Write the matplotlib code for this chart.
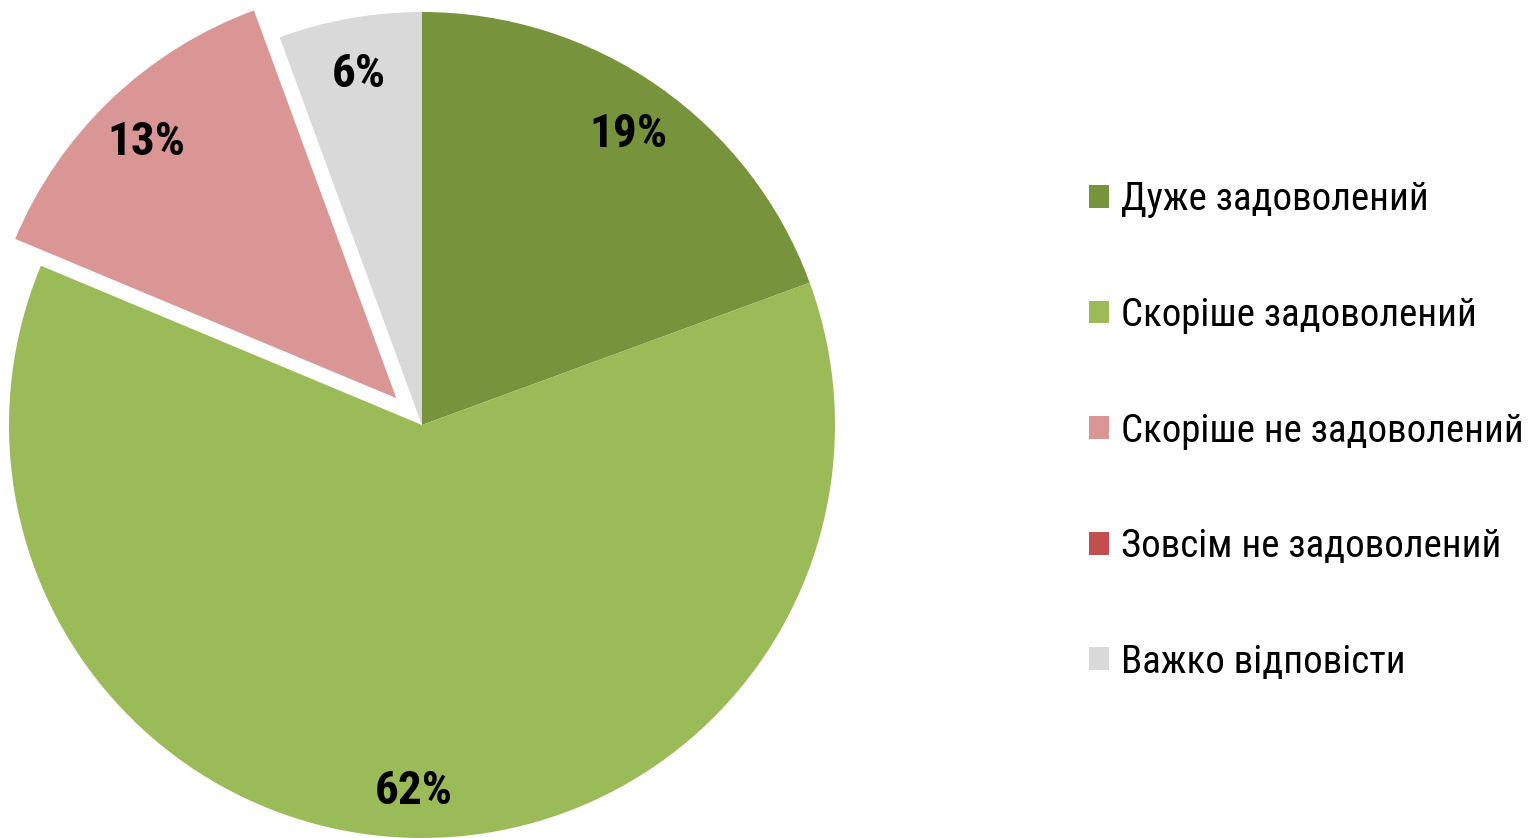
import matplotlib
matplotlib.use("Agg")
import matplotlib.pyplot as plt
import matplotlib.transforms as mtransforms
from matplotlib import font_manager as fm

categories = ["Дуже задоволений", "Скоріше задоволений", "Скоріше не задоволений",
              "Зовсім не задоволений", "Важко відповісти"]
values = [19.4, 61.9, 13.1, 0.0, 5.6]
colors = ["#77933C", "#9BBB59", "#D99694", "#C0504D", "#D9D9D9"]
explode = [0, 0, 0.09, 0, 0]

available = {f.name for f in fm.fontManager.ttflist}
prefs = ["Liberation Sans Narrow", "Arial Narrow", "Roboto Condensed", "PT Sans Narrow",
         "Archivo Narrow", "IBM Plex Sans Condensed", "Open Sans Condensed"]
chosen = next((p for p in prefs if p in available), "DejaVu Sans")
FONT = [chosen, "DejaVu Sans"]
plt.rcParams["font.family"] = FONT

W, H, DPI = 1531, 838, 100
fig = plt.figure(figsize=(W / DPI, H / DPI), dpi=DPI)
fig.patch.set_facecolor("white")

cx, cy, r = 422, 425, 413
ax = fig.add_axes([(cx - r) / W, (H - cy - r) / H, 2 * r / W, 2 * r / H])


def fmt(p):
    return f"{p:.0f}%" if p >= 0.5 else ""


wedges, texts, autotexts = ax.pie(
    values, colors=colors, explode=explode, startangle=90, counterclock=False,
    autopct=fmt, pctdistance=0.875, radius=1.0,
    wedgeprops=dict(linewidth=0),
    textprops=dict(fontsize=34, fontweight="bold", color="black"),
)
for w in wedges:
    w.set_clip_on(False)
shift = mtransforms.ScaledTranslation(0, -5 / DPI, fig.dpi_scale_trans)
for t in autotexts:
    t.set_transform(ax.transData + shift)
ax.set_xlim(-1, 1)
ax.set_ylim(-1, 1)
ax.set_aspect("equal")
ax.axis("off")

leg = fig.legend(
    wedges, categories, loc="center left",
    bbox_to_anchor=(1089 / W, 1 - 431 / H),
    frameon=False, fontsize=28, handlelength=0.52, handleheight=0.52,
    handletextpad=0.3, labelspacing=2.02, borderaxespad=0, borderpad=0,
)

fig.savefig("out.png", dpi=DPI, facecolor="white")
